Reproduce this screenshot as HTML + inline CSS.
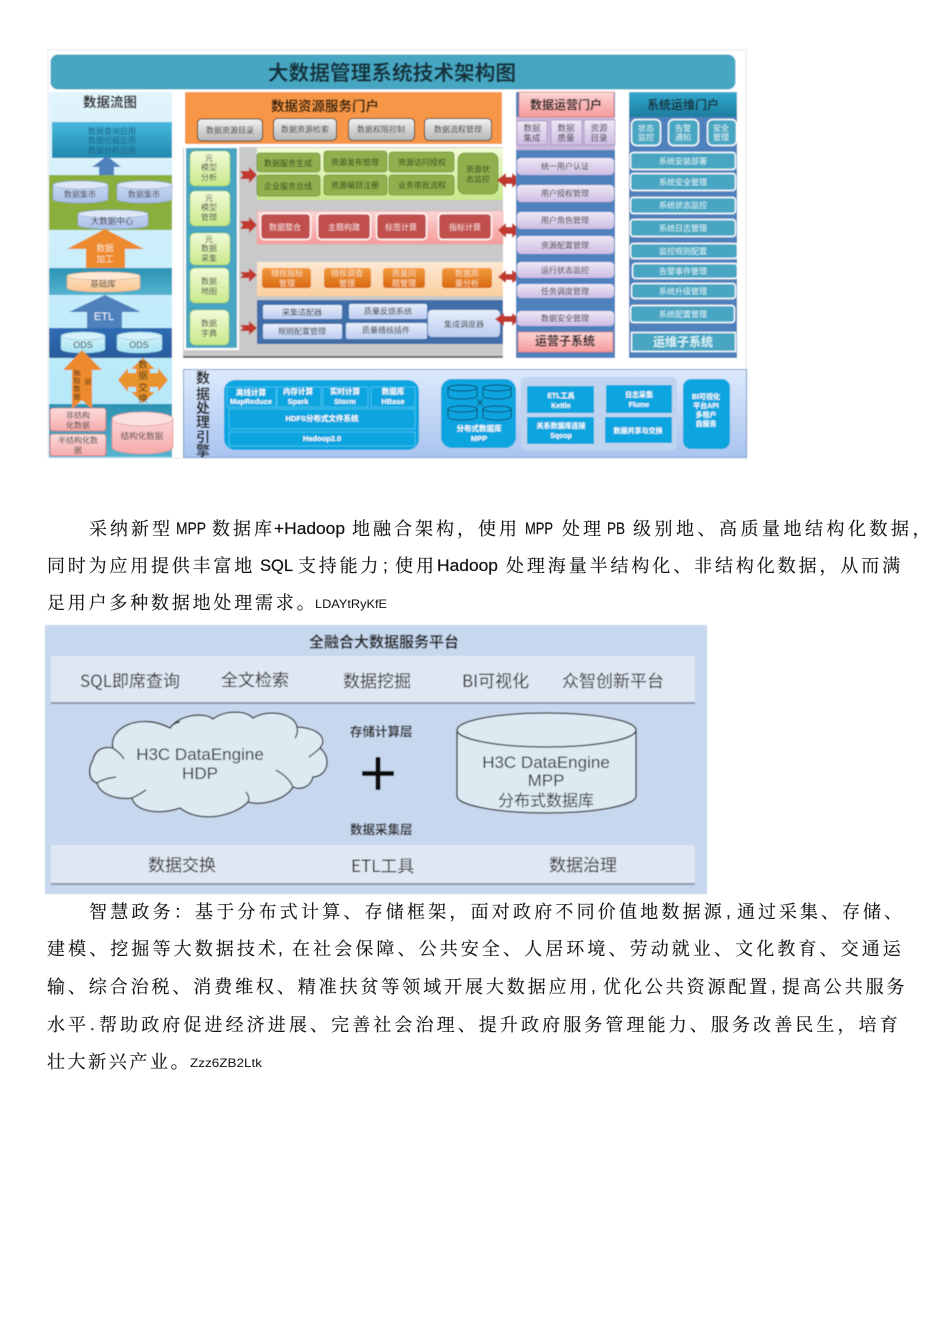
<!DOCTYPE html>
<html><head><meta charset="utf-8"><style>
html,body{margin:0;padding:0;background:#fff}
svg{display:block}
.c{text-anchor:middle;font-family:"Liberation Sans","Noto Sans CJK SC",sans-serif}
.p{font-family:"Noto Serif CJK SC",serif;font-size:18px;letter-spacing:3px;fill:#111;stroke:#111;stroke-width:.12}
.m{font-family:"Liberation Sans",sans-serif;font-size:17px;fill:#111;stroke:#111;stroke-width:.2}
.s{font-family:"Liberation Sans",sans-serif;font-size:12px;fill:#111}
.b7{font-size:7.5px;fill:#fff;font-weight:bold}
</style></head><body>
<svg xmlns="http://www.w3.org/2000/svg" width="950" height="1344" viewBox="0 0 950 1344">
<defs>
<filter id="bl" x="-2%" y="-2%" width="104%" height="104%"><feGaussianBlur stdDeviation="0.4"/></filter>
<linearGradient id="teal" x1="0" y1="0" x2="0" y2="1"><stop offset="0" stop-color="#31a8cc"/><stop offset="1" stop-color="#1d7d9f"/></linearGradient>
<linearGradient id="teal2" x1="0" y1="0" x2="0" y2="1"><stop offset="0" stop-color="#45b8dc"/><stop offset="1" stop-color="#2188ad"/></linearGradient>
<linearGradient id="cyan" x1="0" y1="0" x2="0" y2="1"><stop offset="0" stop-color="#e2f4fc"/><stop offset="1" stop-color="#aee6f8"/></linearGradient>
<linearGradient id="lav" x1="0" y1="0" x2="0" y2="1"><stop offset="0" stop-color="#efe8f6"/><stop offset="1" stop-color="#cdbde2"/></linearGradient>
<linearGradient id="pink" x1="0" y1="0" x2="0" y2="1"><stop offset="0" stop-color="#fbd5d5"/><stop offset="1" stop-color="#f79a9a"/></linearGradient>
<linearGradient id="gbtn" x1="0" y1="0" x2="0" y2="1"><stop offset="0" stop-color="#f2f2f2"/><stop offset="1" stop-color="#b5b5b5"/></linearGradient>
<linearGradient id="grn" x1="0" y1="0" x2="0" y2="1"><stop offset="0" stop-color="#f2fbd8"/><stop offset="1" stop-color="#c8e88a"/></linearGradient>
<linearGradient id="org" x1="0" y1="0" x2="0" y2="1"><stop offset="0" stop-color="#f29a3e"/><stop offset="1" stop-color="#d9690f"/></linearGradient>
<linearGradient id="peach" x1="0" y1="0" x2="0" y2="1"><stop offset="0" stop-color="#fde9d4"/><stop offset="1" stop-color="#fbcf9f"/></linearGradient>
<linearGradient id="blu" x1="0" y1="0" x2="0" y2="1"><stop offset="0" stop-color="#e6eefb"/><stop offset="1" stop-color="#bccdf0"/></linearGradient>
<linearGradient id="eng" x1="0" y1="0" x2="0" y2="1"><stop offset="0" stop-color="#dce9fb"/><stop offset="1" stop-color="#a9c4f0"/></linearGradient>
<linearGradient id="bandT" x1="0" y1="0" x2="0" y2="1"><stop offset="0" stop-color="#2b93b3"/><stop offset="1" stop-color="#55b4cf"/></linearGradient>
<linearGradient id="bandB" x1="0" y1="0" x2="0" y2="1"><stop offset="0" stop-color="#2f6cb5"/><stop offset="1" stop-color="#2a5c9c"/></linearGradient>
<linearGradient id="cylB" x1="0" y1="0" x2="0" y2="1"><stop offset="0" stop-color="#cfdcf5"/><stop offset="1" stop-color="#aabfe8"/></linearGradient>
<linearGradient id="cylC" x1="0" y1="0" x2="0" y2="1"><stop offset="0" stop-color="#e0f6fc"/><stop offset="1" stop-color="#a6e2f2"/></linearGradient>
<linearGradient id="cylP" x1="0" y1="0" x2="0" y2="1"><stop offset="0" stop-color="#fde3c8"/><stop offset="1" stop-color="#f9c794"/></linearGradient>
<linearGradient id="cylR" x1="0" y1="0" x2="0" y2="1"><stop offset="0" stop-color="#fbdcdc"/><stop offset="1" stop-color="#f6aaaa"/></linearGradient>
</defs>

<g filter="url(#bl)">
<!-- frame -->
<rect x="48" y="50" width="698" height="408" fill="#fff" stroke="#e6e9ed" stroke-width="1"/>
<rect x="50" y="54" width="686" height="36" rx="8" fill="#47a7c3" stroke="#fff" stroke-width="1"/>
<text class="c" x="392" y="80" font-size="20.7" font-weight="bold" fill="#12303a">大数据管理系统技术架构图</text>

<!-- left column -->
<rect x="49" y="92" width="123" height="366" fill="url(#cyan)"/>
<text class="c" x="110" y="107" font-size="13.5" font-weight="bold" fill="#222">数据流图</text>
<rect x="52" y="122" width="120" height="36" fill="url(#teal2)"/>
<text class="c" x="112" y="134" font-size="8" fill="#1a5f8a">数据查询应用</text>
<text class="c" x="112" y="143" font-size="8" fill="#1a5f8a">数据挖掘应用</text>
<text class="c" x="112" y="153" font-size="8" fill="#1a5f8a">数据分析应用</text>
<polygon points="107,156 121,167 114,167 114,176 99,176 99,167 92,167" fill="#4f81bd"/>
<rect x="49" y="175" width="123" height="55" fill="#8aaf3c"/>
<path d="M53 185A27.500 4 0 0 1 108 185V199A27.500 4 0 0 1 53 199Z" fill="url(#cylB)" stroke="#8fa6cf" stroke-width=".6"/><ellipse cx="80.500" cy="185" rx="27.500" ry="4" fill="#dde7f8" stroke="#8fa6cf" stroke-width=".6"/>
<text class="c" x="80" y="197" font-size="8" fill="#444">数据集市</text>
<path d="M117 185A27.500 4 0 0 1 172 185V199A27.500 4 0 0 1 117 199Z" fill="url(#cylB)" stroke="#8fa6cf" stroke-width=".6"/><ellipse cx="144.500" cy="185" rx="27.500" ry="4" fill="#dde7f8" stroke="#8fa6cf" stroke-width=".6"/>
<text class="c" x="144" y="197" font-size="8" fill="#444">数据集市</text>
<path d="M78 214A35 4 0 0 1 148 214V225A35 4 0 0 1 78 225Z" fill="url(#cylB)" stroke="#8fa6cf" stroke-width=".6"/><ellipse cx="113" cy="214" rx="35" ry="4" fill="#dde7f8" stroke="#8fa6cf" stroke-width=".6"/>
<text class="c" x="112" y="224" font-size="8.5" fill="#333">大数据中心</text>
<polygon points="105,229 144,249 125,249 125,268 86,268 86,249 67,249" fill="#ed8a2e"/>
<text class="c" x="105" y="251" font-size="8.500" fill="#fde4c8">数据</text>
<text class="c" x="105" y="262" font-size="8.500" fill="#fde4c8">加工</text>
<rect x="49" y="268" width="123" height="27" fill="url(#bandT)"/>
<path d="M67 276A36.500 4 0 0 1 140 276V288A36.500 4 0 0 1 67 288Z" fill="url(#cylP)" stroke="#d8a878" stroke-width=".6"/><ellipse cx="103.500" cy="276" rx="36.500" ry="4" fill="#fde9d6" stroke="#d8a878" stroke-width=".6"/>
<text class="c" x="103" y="287" font-size="8.500" fill="#444">基础库</text>
<polygon points="105,295 141,312 122,312 122,328 87,328 87,312 69,312" fill="#4f81bd"/>
<text class="c" x="104" y="320" font-size="11" fill="#e8f0fa">ETL</text>
<rect x="49" y="328" width="123" height="30" fill="url(#bandB)"/>
<path d="M61 336A22 4 0 0 1 105 336V349A22 4 0 0 1 61 349Z" fill="url(#cylC)" stroke="#7fc4da" stroke-width=".6"/><ellipse cx="83" cy="336" rx="22" ry="4" fill="#d5f2fa" stroke="#7fc4da" stroke-width=".6"/>
<text class="c" x="83" y="348" font-size="9" fill="#333">ODS</text>
<path d="M117 336A22.500 4 0 0 1 162 336V349A22.500 4 0 0 1 117 349Z" fill="url(#cylC)" stroke="#7fc4da" stroke-width=".6"/><ellipse cx="139.500" cy="336" rx="22.500" ry="4" fill="#d5f2fa" stroke="#7fc4da" stroke-width=".6"/>
<text class="c" x="139" y="348" font-size="9" fill="#333">ODS</text>
<rect x="49" y="404" width="123" height="53" fill="url(#bandT)"/>
<polygon points="82,350 102,370 92,370 92,409 82,400 72,409 72,370 63,370" fill="#ed8a2e"/>
<text class="c" x="77" y="375" font-size="7" fill="#3a2a10">抽</text><text class="c" x="77" y="383" font-size="7" fill="#3a2a10">取</text>
<text class="c" x="77" y="391" font-size="7" fill="#3a2a10">数</text><text class="c" x="77" y="399" font-size="7" fill="#3a2a10">据</text>
<text class="c" x="88" y="384" font-size="7" fill="#3a2a10">层</text>
<polygon points="143,358 155,369 150,369 150,373 158,373 158,368 168,380 158,392 158,387 150,387 150,392 155,392 143,403 131,392 136,392 136,387 128,387 128,392 118,380 128,368 128,373 136,373 136,369 131,369" fill="#e8932f"/>
<text class="c" x="143" y="368" font-size="9.500" fill="#4a3510">数</text>
<text class="c" x="143" y="379" font-size="9.500" fill="#4a3510">据</text>
<text class="c" x="143" y="391" font-size="9.500" fill="#4a3510">交</text>
<text class="c" x="143" y="402" font-size="9.500" fill="#4a3510">换</text>
<rect x="50" y="408" width="56" height="23" rx="3" fill="url(#cylR)" stroke="#c9504d" stroke-width=".6"/>
<text class="c" x="78" y="418" font-size="8" fill="#444">非结构</text><text class="c" x="78" y="428" font-size="8" fill="#444">化数据</text>
<rect x="50" y="434" width="56" height="22" rx="3" fill="url(#cylR)" stroke="#c9504d" stroke-width=".6"/>
<text class="c" x="78" y="443" font-size="8" fill="#444">半结构化数</text><text class="c" x="78" y="453" font-size="8" fill="#444">据</text>
<path d="M112 419A30.500 7 0 0 1 173 419V447A30.500 7 0 0 1 112 447Z" fill="url(#cylR)" stroke="#d88" stroke-width=".6"/><ellipse cx="142.500" cy="419" rx="30.500" ry="7" fill="#fbe0e0" stroke="#d88" stroke-width=".6"/>
<text class="c" x="142" y="439" font-size="8.500" fill="#444">结构化数据</text>

<!-- center -->
<rect x="185" y="92" width="317" height="52" fill="#f79646"/>
<text class="c" x="325" y="111" font-size="13.500" font-weight="bold" fill="#2a1c08">数据资源服务门户</text>
<rect x="197.500" y="119" width="65" height="22" rx="4" fill="url(#gbtn)" stroke="#4a3a2a"/><text class="c" x="230" y="133" font-size="8" fill="#333">数据资源目录</text>
<rect x="273.500" y="118.500" width="63" height="22" rx="4" fill="url(#gbtn)" stroke="#4a3a2a"/><text class="c" x="305" y="132" font-size="8" fill="#333">数据资源检索</text>
<rect x="348.500" y="118.500" width="66" height="22" rx="4" fill="url(#gbtn)" stroke="#4a3a2a"/><text class="c" x="381" y="132" font-size="8" fill="#333">数据权限控制</text>
<rect x="424.500" y="118.500" width="67" height="22" rx="4" fill="url(#gbtn)" stroke="#4a3a2a"/><text class="c" x="458" y="132" font-size="8" fill="#333">数据流程管理</text>

<rect x="183" y="147" width="320" height="211" fill="#c9c9c9"/>
<rect x="183" y="356" width="320" height="2" fill="#666"/>
<rect x="185" y="147" width="53" height="202" fill="#48a6c2" stroke="#fff" stroke-width="2"/>
<g fill="url(#grn)" stroke="#8fc35a" stroke-width=".6">
<rect x="190" y="151" width="40" height="35" rx="5"/><rect x="190" y="191" width="40" height="35" rx="5"/><rect x="190" y="233" width="40" height="32" rx="5"/><rect x="190" y="268" width="39" height="35" rx="5"/><rect x="190" y="310" width="39" height="35" rx="5"/>
</g>
<g font-size="8" fill="#444">
<text class="c" x="209" y="161">元</text><text class="c" x="209" y="170">模型</text><text class="c" x="209" y="180">分析</text>
<text class="c" x="209" y="201">元</text><text class="c" x="209" y="210">模型</text><text class="c" x="209" y="220">管理</text>
<text class="c" x="209" y="242">元</text><text class="c" x="209" y="251">数据</text><text class="c" x="209" y="261">采集</text>
<text class="c" x="209" y="284">数据</text><text class="c" x="209" y="294">地图</text>
<text class="c" x="209" y="326">数据</text><text class="c" x="209" y="336">字典</text>
</g>
<g fill="#c0392f">
<polygon points="240,171 249,171 249,167 257,175 249,183 249,179 240,179 243,175"/>
<polygon points="240,221 249,221 249,217 257,225 249,233 249,229 240,229 243,225"/>
<polygon points="240,272 249,272 249,268 257,275 249,282 249,278 240,278 243,275"/>
<polygon points="240,325 249,325 249,321 257,328 249,335 249,331 240,331 243,328"/>
</g>
<rect x="257" y="148" width="246" height="52" fill="url(#grn)"/>
<g fill="#8fb04e" stroke="#6f9130" stroke-width=".8">
<rect x="257" y="153" width="63" height="19" rx="3"/><rect x="324" y="151" width="63" height="21" rx="3"/><rect x="389" y="152" width="65" height="20" rx="3"/>
<rect x="257" y="175" width="63" height="21" rx="3"/><rect x="324" y="175" width="63" height="20" rx="3"/><rect x="389" y="175" width="65" height="20" rx="3"/>
<rect x="458" y="153" width="40" height="41" rx="7"/>
</g>
<g font-size="8" fill="#2f3f18">
<text class="c" x="288" y="166">数据服务生成</text><text class="c" x="355" y="165">资源发布管理</text><text class="c" x="422" y="165">资源访问授权</text>
<text class="c" x="288" y="189">企业服务总线</text><text class="c" x="355" y="188">资源编目注册</text><text class="c" x="422" y="188">业务审批流程</text>
<text class="c" x="478" y="172">资源状</text><text class="c" x="478" y="182">态监控</text>
</g>
<rect x="257" y="211" width="246" height="33" fill="url(#pink)" stroke="#e8a0a0" stroke-width=".5"/>
<g fill="#c0504d" stroke="#fff" stroke-width="1.400">
<rect x="260.500" y="213.500" width="50" height="26" rx="4"/><rect x="317.500" y="213.500" width="53" height="26" rx="4"/><rect x="376.500" y="213.500" width="50" height="26" rx="4"/><rect x="438.500" y="213.500" width="53" height="26" rx="4"/>
</g>
<g font-size="8" fill="#fad4d4">
<text class="c" x="285" y="230">数据整合</text><text class="c" x="344" y="230">主题构建</text><text class="c" x="401" y="230">标签计算</text><text class="c" x="465" y="230">指标计算</text>
</g>
<rect x="257" y="262" width="246" height="34" fill="url(#peach)"/>
<g fill="url(#org)">
<rect x="262" y="268" width="49" height="20" rx="3"/><rect x="324" y="268" width="47" height="20" rx="3"/><rect x="383" y="268" width="42" height="20" rx="3"/><rect x="442" y="268" width="50" height="20" rx="3"/>
</g>
<g font-size="8" fill="#fcdcb8">
<text class="c" x="287" y="276">稽核指标</text><text class="c" x="287" y="286">管理</text>
<text class="c" x="347" y="276">稽核调查</text><text class="c" x="347" y="286">管理</text>
<text class="c" x="404" y="276">质量问</text><text class="c" x="404" y="286">题管理</text>
<text class="c" x="467" y="276">数据质</text><text class="c" x="467" y="286">量分析</text>
</g>
<rect x="257" y="300" width="246" height="44" fill="#3f6ea8"/>
<g fill="url(#blu)">
<rect x="263" y="305" width="79" height="14" rx="2"/><rect x="349" y="304" width="78" height="15" rx="2"/><rect x="263" y="324" width="79" height="15" rx="2"/><rect x="346" y="323" width="81" height="16" rx="2"/><rect x="428" y="310" width="72" height="27" rx="4"/>
</g>
<g font-size="8" fill="#333">
<text class="c" x="302" y="315">采集适配器</text><text class="c" x="388" y="314">质量反馈系统</text><text class="c" x="302" y="334">规则配置管理</text><text class="c" x="386" y="333">质量稽核插件</text><text class="c" x="464" y="327">集成调度器</text>
</g>
<g fill="#c0392f">
<polygon points="497,180 506,173 506,177 512,177 512,173 521,180 512,188 512,184 506,184 506,188"/>
<polygon points="498,230 506,223 506,227 512,227 512,223 521,230 512,238 512,234 506,234 506,238"/>
<polygon points="498,277 506,270 506,274 512,274 512,270 522,277 512,283 512,280 506,280 506,283"/>
<polygon points="495,319 504,313 504,316 512,316 512,313 520,319 512,326 512,322 504,322 504,326"/>
</g>

<!-- engine -->
<rect x="183.500" y="369.500" width="563" height="88" fill="url(#eng)" stroke="#7f9cc9"/>
<g font-size="14" font-weight="bold" fill="#222">
<text class="c" x="203" y="383">数</text><text class="c" x="203" y="399">据</text><text class="c" x="203" y="413">处</text><text class="c" x="203" y="427">理</text><text class="c" x="203" y="442">引</text><text class="c" x="203" y="456">擎</text>
</g>
<rect x="224" y="380" width="195" height="70" rx="11" fill="#0aa5e0"/>
<g fill="none" stroke="#55cdf5" stroke-width=".7">
<rect x="227" y="387" width="49" height="20"/><rect x="277" y="387" width="44" height="20"/><rect x="323" y="387" width="45" height="20"/><rect x="371" y="387" width="44" height="20"/><rect x="229" y="409" width="186" height="20"/><rect x="229" y="432" width="186" height="14"/>
</g>
<text class="c b7" x="251" y="395">离线计算</text><text class="c b7" x="251" y="404">MapReduce</text>
<text class="c b7" x="298" y="394">内存计算</text><text class="c b7" x="298" y="404">Spark</text>
<text class="c b7" x="345" y="394">实时计算</text><text class="c b7" x="345" y="404">Storm</text>
<text class="c b7" x="393" y="394">数据库</text><text class="c b7" x="393" y="404">HBase</text>
<text class="c b7" x="322" y="421">HDFS分布式文件系统</text>
<text class="c b7" x="322" y="441">Hadoop2.0</text>
<rect x="441" y="379" width="75" height="69" rx="11" fill="#0aa5e0"/>
<g fill="#0aa5e0" stroke="#123" stroke-width=".8">
<path d="M448 388A14.500 3 0 0 1 477 388V396A14.500 3 0 0 1 448 396Z"/><ellipse cx="462.500" cy="388" rx="14.500" ry="3"/>
<path d="M483 388A14 3 0 0 1 511 388V396A14 3 0 0 1 483 396Z"/><ellipse cx="497" cy="388" rx="14" ry="3"/>
<path d="M448 409A14.500 3 0 0 1 477 409V417A14.500 3 0 0 1 448 417Z"/><ellipse cx="462.500" cy="409" rx="14.500" ry="3"/>
<path d="M483 409A14 3 0 0 1 511 409V417A14 3 0 0 1 483 417Z"/><ellipse cx="497" cy="409" rx="14" ry="3"/>
<path d="M477 399L483 406M483 399L477 406" fill="none"/>
</g>
<text class="c b7" x="479" y="431">分布式数据库</text><text class="c b7" x="479" y="441">MPP</text>
<rect x="521" y="377" width="156" height="73" rx="5" fill="#bfd4ee"/>
<g fill="#0aa5e0"><rect x="527" y="386" width="67" height="27"/><rect x="606" y="385" width="66" height="28"/><rect x="527" y="417" width="67" height="27"/><rect x="605" y="417" width="67" height="26"/></g>
<g font-size="7" font-weight="bold" fill="#fff">
<text class="c" x="561" y="398">ETL工具</text><text class="c" x="561" y="408">Kettle</text>
<text class="c" x="639" y="397">日志采集</text><text class="c" x="639" y="407">Flume</text>
<text class="c" x="561" y="428">关系数据库连接</text><text class="c" x="561" y="438">Sqoop</text>
<text class="c" x="638" y="433">数据共享与交换</text>
</g>
<rect x="683" y="379" width="47" height="70" rx="8" fill="#0aa5e0"/>
<g font-size="7" font-weight="bold" fill="#fff">
<text class="c" x="706" y="399">BI可视化</text><text class="c" x="706" y="408">平台API</text><text class="c" x="706" y="417">多租户</text><text class="c" x="706" y="426">自服务</text>
</g>

<!-- ops column -->
<rect x="516" y="92" width="99" height="266" fill="#4f81bd"/>
<rect x="516" y="117" width="99" height="33" fill="#c9b8de"/>
<rect x="519" y="92" width="95" height="25" fill="url(#pink)" stroke="#d87070" stroke-width=".6"/>
<text class="c" x="566" y="109" font-size="12" font-weight="bold" fill="#222">数据运营门户</text>
<g fill="url(#lav)" stroke="#8a78a8" stroke-width=".5"><rect x="517" y="121" width="30" height="24"/><rect x="551" y="120" width="31" height="25"/><rect x="584" y="120" width="31" height="25"/></g>
<g font-size="8.500" fill="#333">
<text class="c" x="532" y="131">数据</text><text class="c" x="532" y="141">集成</text>
<text class="c" x="566" y="131">数据</text><text class="c" x="566" y="141">质量</text>
<text class="c" x="599" y="131">资源</text><text class="c" x="599" y="141">目录</text>
</g>
<g fill="url(#lav)">
<rect x="517" y="158" width="97" height="17" rx="4"/><rect x="517" y="185" width="97" height="17" rx="4"/><rect x="517" y="212" width="97" height="17" rx="4"/><rect x="517" y="236" width="97" height="18" rx="4"/><rect x="517" y="262" width="97" height="16" rx="4"/><rect x="517" y="284" width="97" height="14" rx="4"/><rect x="517" y="311" width="97" height="15" rx="4"/>
</g>
<g font-size="8" fill="#333">
<text class="c" x="565" y="169">统一用户认证</text><text class="c" x="565" y="196">用户授权管理</text><text class="c" x="565" y="223">用户角色管理</text><text class="c" x="565" y="248">资源配置管理</text><text class="c" x="565" y="273">运行状态监控</text><text class="c" x="565" y="294">任务调度管理</text><text class="c" x="565" y="321">数据安全管理</text>
</g>
<rect x="518" y="332" width="95" height="20" fill="url(#pink)" stroke="#d87070" stroke-width=".6"/>
<text class="c" x="565" y="345" font-size="12" font-weight="bold" fill="#222">运营子系统</text>

<!-- sys column -->
<rect x="629" y="92" width="108" height="266" fill="#4f81bd"/>
<rect x="629" y="92" width="108" height="25" fill="url(#teal)"/>
<text class="c" x="683" y="109" font-size="12" font-weight="bold" fill="#16303a">系统运维门户</text>
<g fill="#48a6c2" stroke="#fff" stroke-width="1.400">
<rect x="631.500" y="119.500" width="29" height="26" rx="5"/><rect x="668.500" y="119.500" width="30" height="26" rx="5"/><rect x="707.500" y="119.500" width="29" height="26" rx="5"/>
<rect x="630.500" y="152.500" width="105" height="17" rx="3"/><rect x="630.500" y="173.500" width="105" height="17" rx="3"/><rect x="630.500" y="197.500" width="105" height="16" rx="3"/><rect x="630.500" y="219.500" width="105" height="17" rx="3"/><rect x="630.500" y="243.500" width="107" height="15" rx="3"/><rect x="632.500" y="263.500" width="105" height="15" rx="3"/><rect x="631.500" y="283.500" width="104" height="15" rx="3"/><rect x="630.500" y="305.500" width="104" height="17" rx="3"/><rect x="631.500" y="332.500" width="104" height="19"/>
</g>
<g font-size="8" fill="#d8f2f8">
<text class="c" x="646" y="131">状态</text><text class="c" x="646" y="140">监控</text><text class="c" x="683" y="131">告警</text><text class="c" x="683" y="140">通知</text><text class="c" x="721" y="131">安全</text><text class="c" x="721" y="140">管理</text>
<text class="c" x="683" y="164">系统安装部署</text><text class="c" x="683" y="185">系统安全管理</text><text class="c" x="683" y="208">系统状态监控</text><text class="c" x="683" y="231">系统日志管理</text><text class="c" x="683" y="254">监控规则配置</text><text class="c" x="683" y="274">告警事件管理</text><text class="c" x="683" y="294">系统升级管理</text><text class="c" x="683" y="317">系统配置管理</text>
</g>
<text class="c" x="683" y="346" font-size="12" font-weight="bold" fill="#d8f2f8">运维子系统</text>
</g>

<!-- paragraphs -->
<g>
<text class="p" x="89" y="535">采纳新型</text><text class="m" x="176" y="534" textLength="30" lengthAdjust="spacingAndGlyphs">MPP</text><text class="p" x="212" y="535">数据库</text><text class="m" x="274" y="534" textLength="71" lengthAdjust="spacingAndGlyphs">+Hadoop</text><text class="p" x="352" y="535">地融合架构&#xFF0C;使用</text><text class="m" x="525" y="534" textLength="28" lengthAdjust="spacingAndGlyphs">MPP</text><text class="p" x="562" y="535">处理</text><text class="m" x="607" y="534" textLength="18" lengthAdjust="spacingAndGlyphs">PB</text><text class="p" x="633" y="535" style="letter-spacing:3.500px">级别地、高质量地结构化数据&#xFF0C;</text>
<text class="p" x="47" y="572" style="letter-spacing:2.800px">同时为应用提供丰富地</text><text class="m" x="260" y="571" textLength="33" lengthAdjust="spacingAndGlyphs">SQL</text><text class="p" x="298" y="572" style="letter-spacing:2.800px">支持能力</text><text class="m" x="383" y="571">;</text><text class="p" x="395" y="572">使用</text><text class="m" x="437" y="571" textLength="61" lengthAdjust="spacingAndGlyphs">Hadoop</text><text class="p" x="506" y="572" style="letter-spacing:2.900px">处理海量半结构化、非结构化数据&#xFF0C;从而满</text>
<text class="p" x="47" y="609" style="letter-spacing:2.800px">足用户多种数据地处理需求。</text><text class="s" x="315" y="608" textLength="72" lengthAdjust="spacingAndGlyphs">LDAYtRyKfE</text>

<text class="p" x="89" y="918" style="letter-spacing:3.200px">智慧政务&#xFF1A;基于分布式计算、存储框架&#xFF0C;面对政府不同价值地数据源</text><text class="m" x="726" y="917">,</text><text class="p" x="737" y="918" style="letter-spacing:3px">通过采集、存储、</text>
<text class="p" x="47" y="955" style="letter-spacing:3.100px">建模、挖掘等大数据技术</text><text class="m" x="278" y="954">,</text><text class="p" x="292" y="955" style="letter-spacing:3.100px">在社会保障、公共安全、人居环境、劳动就业、文化教育、交通运</text>
<text class="p" x="47" y="993" style="letter-spacing:2.900px">输、综合治税、消费维权、精准扶贫等领域开展大数据应用</text><text class="m" x="591" y="992">,</text><text class="p" x="603" y="993" style="letter-spacing:2.900px">优化公共资源配置</text><text class="m" x="771" y="992">,</text><text class="p" x="782" y="993" style="letter-spacing:2.900px">提高公共服务</text>
<text class="p" x="47" y="1031">水平</text><text class="m" x="90" y="1030">.</text><text class="p" x="99" y="1031" style="letter-spacing:3.100px">帮助政府促进经济进展、完善社会治理、提升政府服务管理能力、服务改善民生&#xFF0C;培育</text>
<text class="p" x="47" y="1068" style="letter-spacing:2.600px">壮大新兴产业。</text><text class="s" x="190" y="1067" textLength="72" lengthAdjust="spacingAndGlyphs">Zzz6ZB2Ltk</text>
</g>

<!-- second diagram -->
<g filter="url(#bl)">
<rect x="45" y="625" width="662" height="269" fill="#c6d7ee"/>
<text class="c" x="384" y="647" font-size="15" font-weight="bold" fill="#2a2a2a" style="font-family:'Noto Sans CJK SC',sans-serif">全融合大数据服务平台</text>
<rect x="51" y="658" width="644" height="46" fill="#8a99ad"/>
<rect x="51" y="656" width="644" height="46" fill="#dfe7f3"/>
<rect x="51" y="847" width="644" height="38" fill="#8a99ad"/>
<rect x="51" y="845" width="644" height="38" fill="#dfe7f3"/>
<g style="font-family:'Noto Sans CJK SC',sans-serif" font-size="17" fill="#2a2a2a">
<text x="80" y="687">SQL即席查询</text><text x="221" y="686">全文检索</text><text x="343" y="687">数据挖掘</text><text x="462" y="687">BI可视化</text><text x="562" y="687">众智创新平台</text>
<text x="148" y="871">数据交换</text><text x="351" y="872">ETL工具</text><text x="549" y="871">数据治理</text>
</g>
<path d="M93 760C95 750 103 746 113 748C108 728 140 712 170 728C180 714 205 712 213 719C225 710 245 710 253 718C270 708 295 714 297 727C318 728 328 738 320 748C332 758 328 776 313 777C310 788 300 790 293 787C285 800 262 806 248 802C235 816 200 824 180 808C160 815 135 812 132 798C118 800 100 795 97 783C88 780 88 768 93 760Z" fill="#dceaf2" stroke="#222" stroke-width="1.300"/>
<path d="M113 748C118 752 122 755 124 759M97 783C103 779 110 778 116 777M170 728C172 725 176 722 180 722M297 727C298 731 297 735 295 738M320 748C316 752 312 755 309 757M293 787C290 780 283 774 276 770M248 802C250 798 248 795 246 792M132 798C136 796 142 793 146 790" fill="none" stroke="#222" stroke-width="1.200"/>
<g style="font-family:'Liberation Sans','Noto Sans CJK SC',sans-serif" text-anchor="middle" font-size="17" fill="#333">
<text x="200" y="760">H3C DataEngine</text><text x="200" y="779">HDP</text>
</g>
<path d="M457 732A89.500 17 0 0 1 636 732V796A89.500 17 0 0 1 457 796Z" fill="#dceaf2" stroke="#222" stroke-width="1.300"/>
<ellipse cx="546.500" cy="730" rx="89.500" ry="17" fill="#dceaf2" stroke="#222" stroke-width="1.300"/>
<g style="font-family:'Liberation Sans','Noto Sans CJK SC',sans-serif" text-anchor="middle" font-size="17" fill="#333">
<text x="546" y="768">H3C DataEngine</text><text x="546" y="786">MPP</text><text x="546" y="806" style="font-family:'Noto Sans CJK SC',sans-serif" font-size="16">分布式数据库</text>
</g>
<rect x="362" y="771" width="32" height="5" fill="#111"/><rect x="375.500" y="757" width="5" height="33" fill="#111"/>
<g style="font-family:'Noto Sans CJK SC',sans-serif" font-size="12.500" font-weight="bold" fill="#333">
<text x="350" y="736">存储计算层</text><text x="350" y="834">数据采集层</text>
</g>
</g>
</svg>
</body></html>
